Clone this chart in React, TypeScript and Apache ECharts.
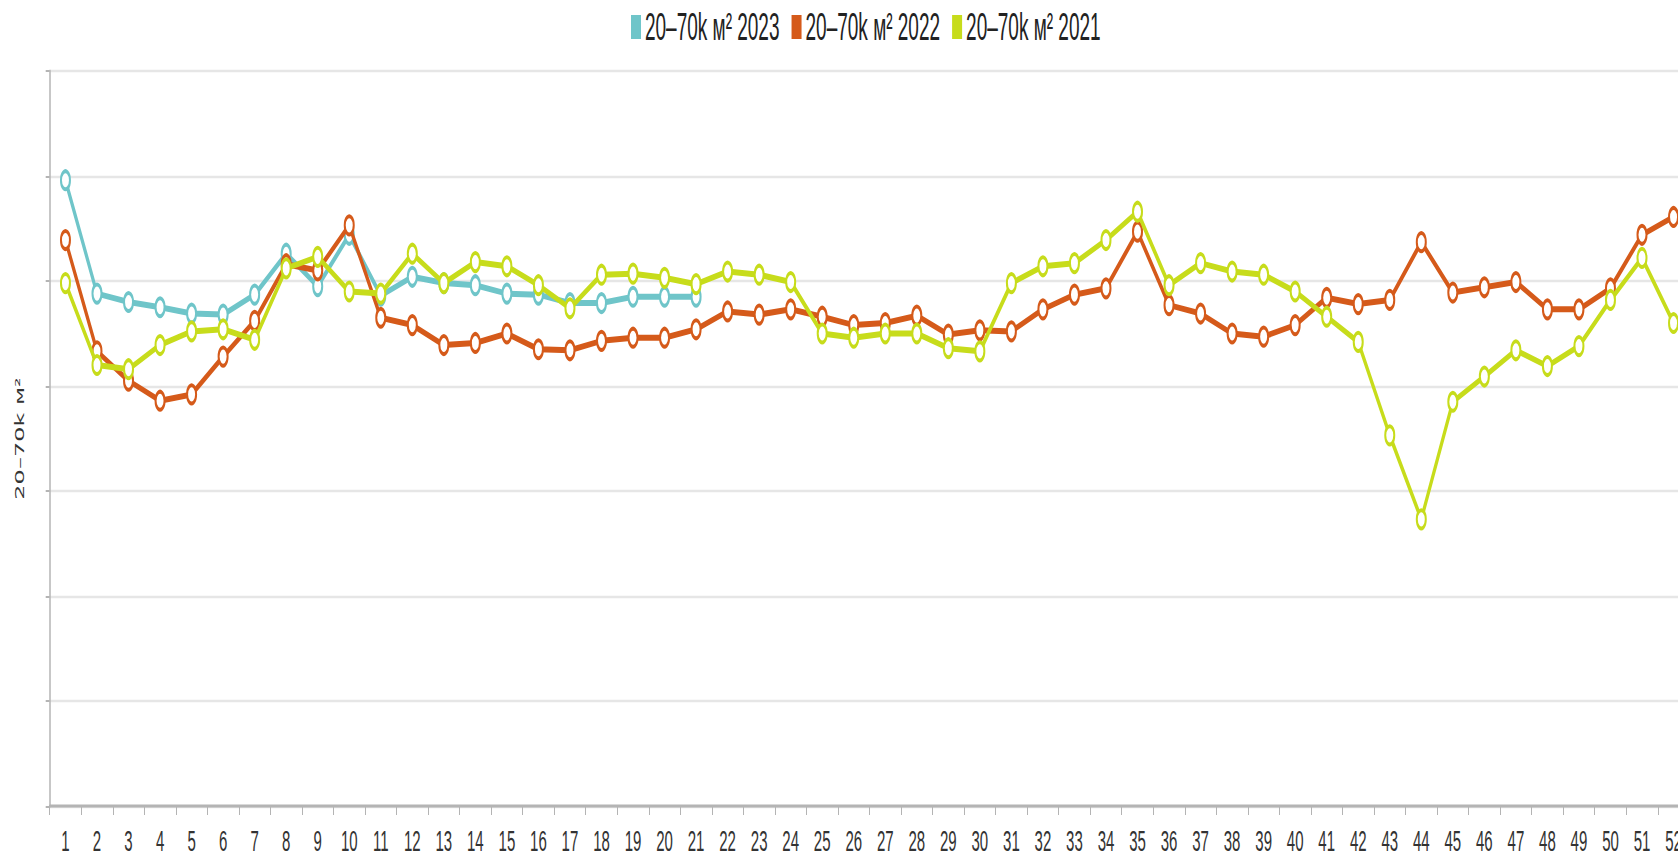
import React, { useEffect, useRef } from "react";
import * as echarts from "echarts";

const weeks = [
  "1","2","3","4","5","6","7","8","9","10","11","12","13","14","15","16","17","18","19","20","21","22","23","24","25","26",
  "27","28","29","30","31","32","33","34","35","36","37","38","39","40","41","42","43","44","45","46","47","48","49","50","51","52",
];

const seriesNames = ["20–70k м² 2023", "20–70k м² 2022", "20–70k м² 2021"];

const values2023 = [
  59.6, 48.8, 48.0, 47.5, 46.9, 46.8, 48.7, 52.6, 49.5, 54.4, 48.6, 50.4, 49.8, 49.6, 48.8, 48.7, 47.9, 47.9, 48.5, 48.5, 48.5,
];

const values2022 = [
  53.9, 43.3, 40.5, 38.6, 39.2, 42.8, 46.2, 51.6, 51.0, 55.3, 46.5, 45.8, 43.9, 44.1, 45.0, 43.5, 43.4, 44.3, 44.6, 44.6,
  45.4, 47.1, 46.8, 47.3, 46.6, 45.8, 46.0, 46.7, 44.9, 45.3, 45.2, 47.3, 48.7, 49.3, 54.7, 47.7, 46.9, 45.0, 44.7, 45.8,
  48.4, 47.8, 48.2, 53.7, 48.9, 49.4, 49.9, 47.3, 47.3, 49.3, 54.4, 56.1,
];

const values2021 = [
  49.8, 42.0, 41.6, 43.9, 45.2, 45.4, 44.4, 51.2, 52.3, 49.0, 48.8, 52.6, 49.8, 51.8, 51.4, 49.6, 47.4, 50.6, 50.7, 50.3,
  49.7, 50.9, 50.6, 49.9, 45.0, 44.6, 45.0, 45.0, 43.6, 43.3, 49.8, 51.4, 51.7, 53.9, 56.6, 49.6, 51.7, 50.9, 50.6, 49.0,
  46.6, 44.2, 35.3, 27.3, 38.5, 40.9, 43.4, 41.9, 43.8, 48.2, 52.2, 46.0,
];

const colors = ["#6fc5c9", "#d55a1a", "#c7dc1b"];
const yAxisName = "20–70k м²";

export default function App() {
  const ref = useRef<HTMLDivElement>(null);

  useEffect(() => {
    if (!ref.current) return;
    const chart = echarts.init(ref.current, null, { renderer: "svg" });
    const datasets = [values2023, values2022, values2021];
    chart.setOption({
      animation: false,
      backgroundColor: "#ffffff",
      color: colors,
      legend: {
        left: 631,
        top: 4,
        padding: 0,
        itemWidth: 8,
        itemHeight: 10,
        itemGap: 12,
        icon: "rect",
        data: seriesNames,
        textStyle: {
          fontFamily: "Liberation Sans, Arial, sans-serif",
          fontSize: 19,
          color: "#222",
        },
      },
      grid: { left: 49.7, right: 10.7, top: 35.5, bottom: 21.4, containLabel: false },
      xAxis: {
        type: "category",
        data: weeks,
        boundaryGap: true,
        axisLine: { lineStyle: { color: "#b4b4b4", width: 1.5 } },
        axisTick: { show: true, interval: 0, length: 4.5, lineStyle: { color: "#b4b4b4" } },
        axisLabel: {
          interval: 0,
          margin: 10,
          fontFamily: "Liberation Sans, Arial, sans-serif",
          fontSize: 15,
          color: "#333",
        },
        splitLine: { show: false },
      },
      yAxis: {
        type: "value",
        min: 0,
        max: 70,
        interval: 10,
        name: yAxisName,
        nameLocation: "middle",
        nameGap: 24,
        nameTextStyle: { fontFamily: "DejaVu Sans, sans-serif", fontSize: 12, color: "#333" },
        axisLine: { show: true, lineStyle: { color: "#b4b4b4", width: 1.5 } },
        axisTick: { show: true, length: 4, lineStyle: { color: "#b4b4b4" } },
        axisLabel: { show: false },
        splitLine: { show: true, lineStyle: { color: "#e6e6e6", width: 1.2 } },
      },
      series: seriesNames.map((name, i) => ({
        name,
        type: "line",
        data: datasets[i],
        symbol: "emptyCircle",
        symbolSize: 9,
        showSymbol: true,
        lineStyle: { width: 3, color: colors[i] },
        itemStyle: { color: colors[i], borderColor: colors[i], borderWidth: 3 },
        emphasis: { disabled: true },
        z: 2 + i,
      })),
    });
    return () => chart.dispose();
  }, []);

  return (
    <div
      style={{
        position: "fixed",
        left: 0,
        top: 0,
        width: 1678,
        height: 856,
        overflow: "hidden",
        background: "#ffffff",
      }}
    >
      <div
        ref={ref}
        style={{ width: 1700, height: 428, transform: "scaleY(2)", transformOrigin: "0 0" }}
      />
    </div>
  );
}
